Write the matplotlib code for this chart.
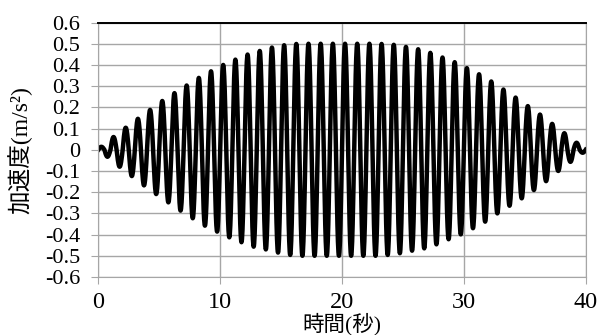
import numpy as np
import matplotlib
matplotlib.use("Agg")
import matplotlib.pyplot as plt

# peak value of each half cycle, 1 s period, 0-40 s
half_cycle_peaks = [
    0.014, -0.033, 0.060, -0.080, 0.104, -0.124, 0.146, -0.168,
    0.188, -0.209, 0.230, -0.248, 0.267, -0.287, 0.303, -0.323,
    0.339, -0.358, 0.370, -0.386, 0.400, -0.413, 0.425, -0.436,
    0.449, -0.457, 0.466, -0.470, 0.482, -0.485, 0.493, -0.496,
    0.499, -0.500, 0.500, -0.500, 0.500, -0.500, 0.500, -0.500,
    0.500, -0.500, 0.500, -0.500, 0.500, -0.500, 0.499, -0.496,
    0.495, -0.488, 0.485, -0.476, 0.474, -0.465, 0.457, -0.446,
    0.435, -0.422, 0.413, -0.399, 0.385, -0.370, 0.356, -0.339,
    0.322, -0.300, 0.284, -0.264, 0.246, -0.229, 0.206, -0.190,
    0.166, -0.148, 0.122, -0.100, 0.078, -0.057, 0.033, -0.014,
]
half_period = 0.5

x_ticks = [0, 10, 20, 30, 40]
y_ticks = [round(v, 1) for v in np.arange(-0.6, 0.61, 0.1)]
y_labels = ["0" if v == 0 else f"{v:.1f}" for v in y_ticks]

plt.rcParams['font.family'] = ['Liberation Serif', 'Noto Sans CJK JP']

fig = plt.figure(figsize=(5.98, 3.35), dpi=100)
ax = fig.add_axes([0.1644, 0.1731, 0.8150, 0.7597])

# each half cycle is a sine lobe with its peak value
tt, yy = [], []
for k, p in enumerate(half_cycle_peaks):
    t0 = k * half_period
    s = np.linspace(0, 1, 25)
    tt.extend(t0 + s * half_period)
    yy.extend(p * np.sin(np.pi * s))
ax.plot(tt, yy, color='black', lw=3.2, solid_joinstyle='round')

ax.set_xlim(0, 40)
ax.set_ylim(-0.6, 0.6)
ax.set_xticks(x_ticks)
ax.set_yticks(y_ticks)
ax.set_yticklabels(y_labels)
ax.grid(True, color='#a6a6a6', lw=1)
ax.set_axisbelow(True)

for side in ['left', 'bottom', 'right']:
    ax.spines[side].set_color('#a6a6a6')
ax.spines['top'].set_color('black')
ax.spines['top'].set_linewidth(1.4)

ax.tick_params(axis='both', direction='out', length=5, color='#a6a6a6')
ax.tick_params(axis='y', labelsize=16, pad=8)
ax.tick_params(axis='x', labelsize=17.5, pad=5.5)

ax.set_ylabel('加速度(m/s²)', fontsize=17, va='center')
ax.yaxis.set_label_coords(-0.16, 0.5)
ax.set_xlabel('時間(秒)', fontsize=15.5, va='center')
ax.xaxis.set_label_coords(0.5, -0.185)

fig.savefig('out.png', dpi=100)
